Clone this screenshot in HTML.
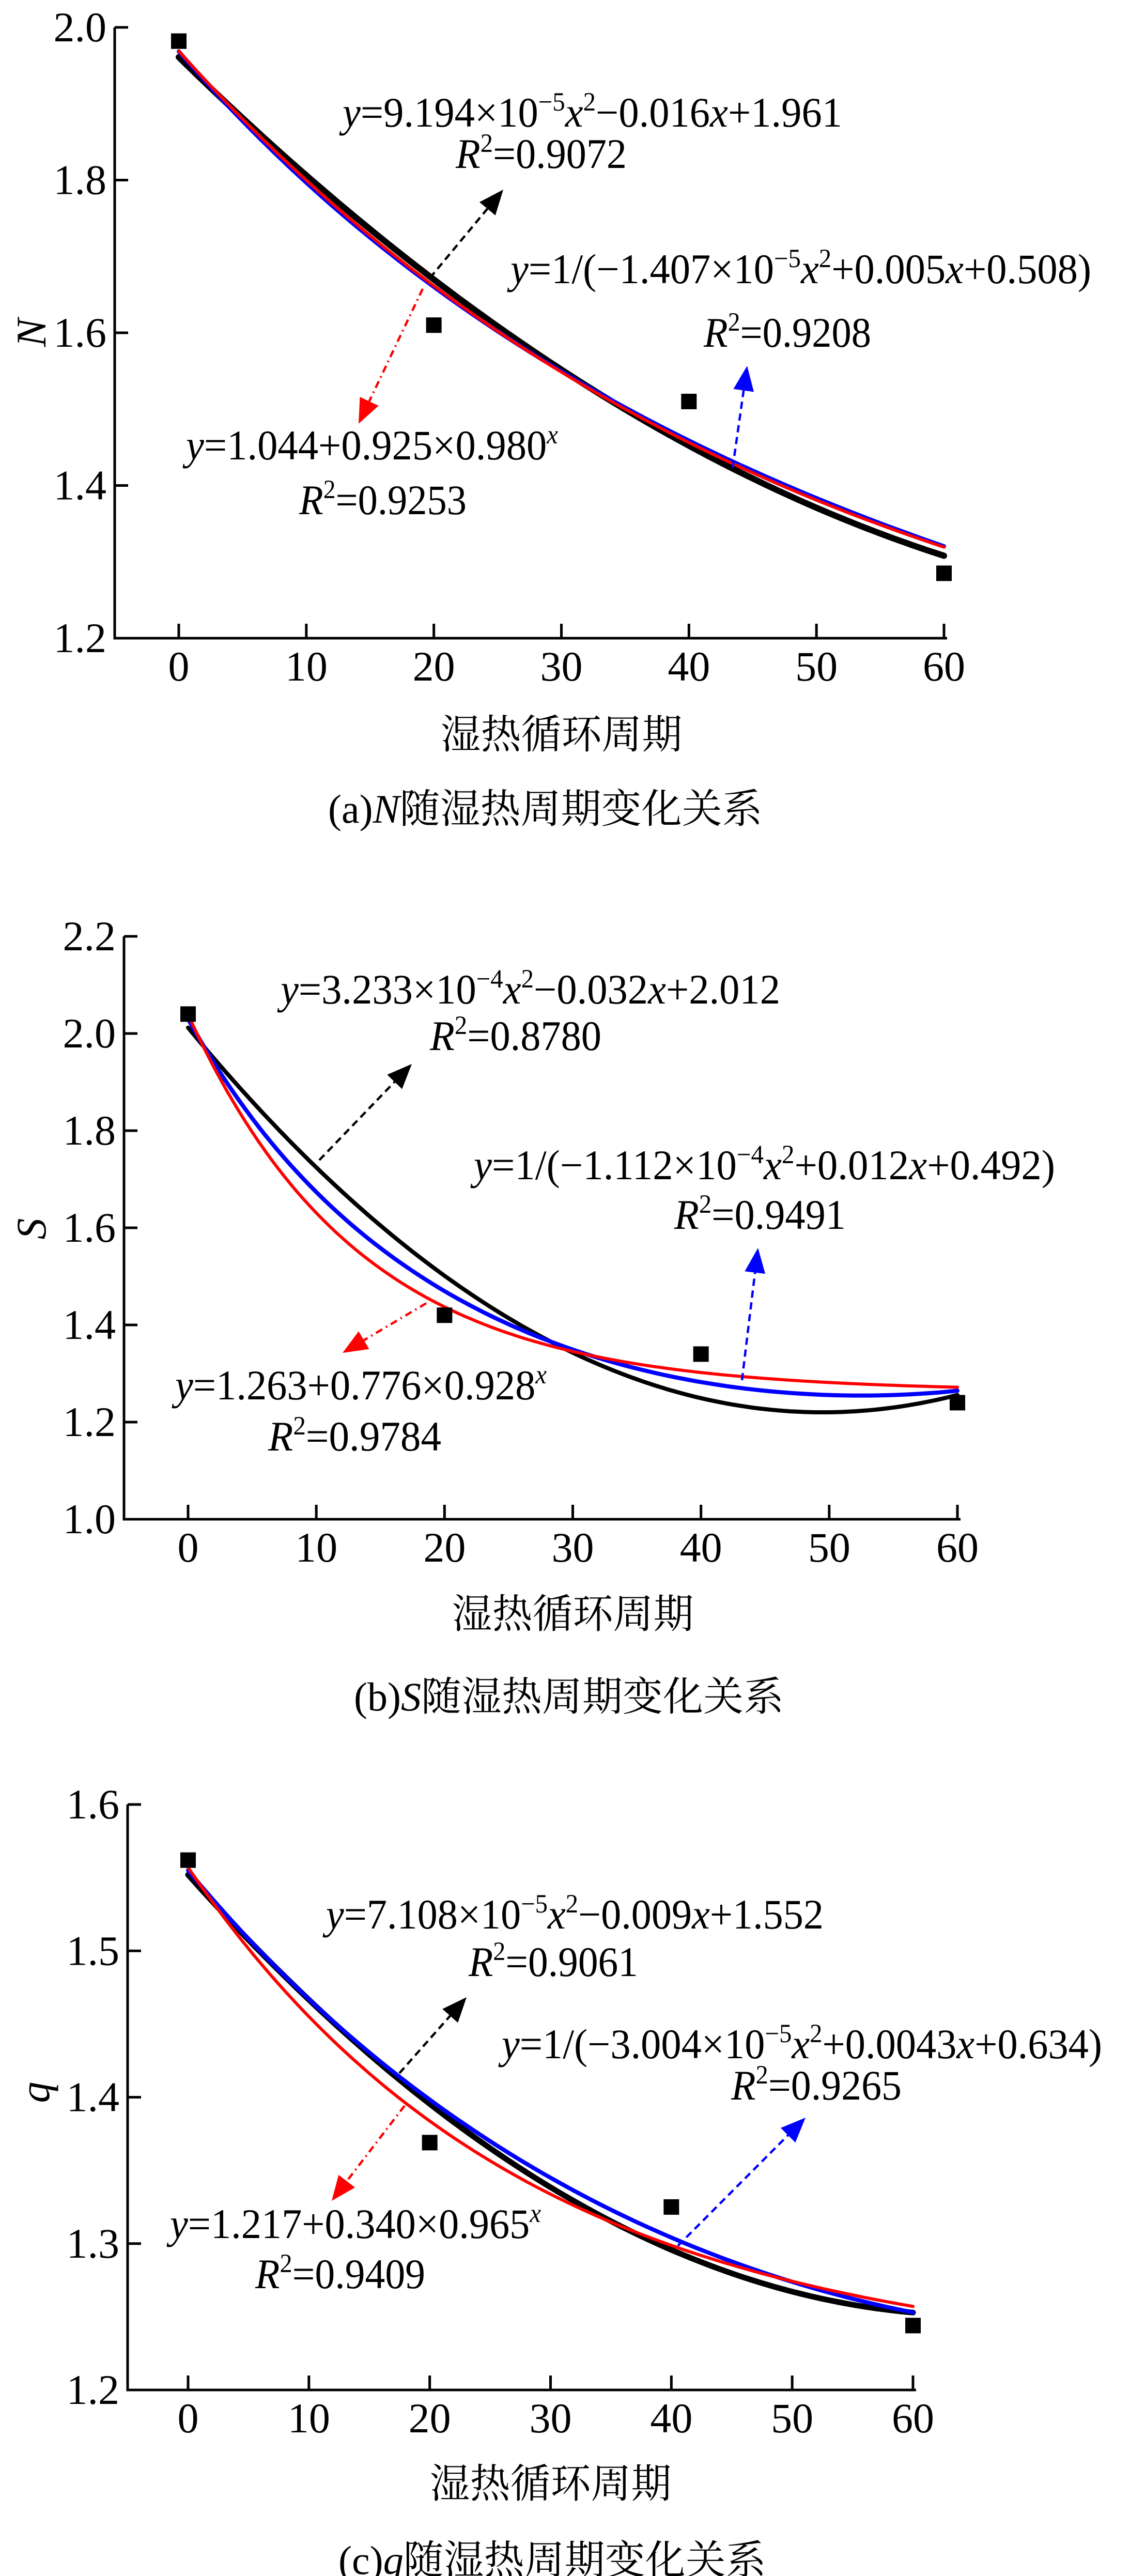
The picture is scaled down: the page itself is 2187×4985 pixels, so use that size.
<!DOCTYPE html>
<html><head><meta charset="utf-8">
<style>
html,body{margin:0;padding:0;background:#fff;}
svg{display:block;}
text{font-family:"Liberation Serif","Noto Serif CJK SC",serif;fill:#000;}
.cn{font-family:"Liberation Serif","Noto Serif CJK SC","Noto Sans CJK SC",serif;}
</style></head>
<body>
<svg id="fig" width="2187" height="4985" viewBox="0 0 2187 4985" xmlns="http://www.w3.org/2000/svg"></svg>
<script>
// ---- data ----
const xCats = [0, 20, 40, 60];
const xTicks = [0, 10, 20, 30, 40, 50, 60];
// chart a (N)
const nPoints = [1.982, 1.61, 1.51, 1.285];
const nQuad = [9.194e-5, -0.0164, 1.961];
const nExp = [1.044, 0.925, 0.980];
const nRat = [-1.407e-5, 0.005, 0.508];
const nTicks = [1.2, 1.4, 1.6, 1.8, 2.0];
// chart b (S)
const sPoints = [2.04, 1.42, 1.34, 1.24];
const sQuad = [3.233e-4, -0.032, 2.012];
const sExp = [1.263, 0.776, 0.928];
const sRat = [-1.105e-4, 0.0116, 0.4926];
const sTicks = [1.0, 1.2, 1.4, 1.6, 1.8, 2.0, 2.2];
// chart c (q)
const qPoints = [1.562, 1.369, 1.325, 1.244];
const qQuad = [7.108e-5, -0.00925, 1.552];
const qExp = [1.217, 0.340, 0.965];
const qRat = [-2.544e-5, 0.00411, 0.6431];
const qTicks = [1.2, 1.3, 1.4, 1.5, 1.6];

const NS = "http://www.w3.org/2000/svg";
const svg = document.getElementById('fig');
function mk(tag, attrs, parent){
  const e = document.createElementNS(NS, tag);
  for (const k in attrs) e.setAttribute(k, attrs[k]);
  (parent||svg).appendChild(e);
  return e;
}
function rich(parent, str, x, y, len, fs){
  const t = mk('text', {x:x, y:y, 'font-size':fs}, parent);
  if (len) { t.setAttribute('textLength', len); t.setAttribute('lengthAdjust', 'spacingAndGlyphs'); }
  let i = 0, sup = false;
  const sh = Math.round(fs*0.38);
  while (i < str.length) {
    let ch = str[i];
    if (ch === '^' && str[i+1] === '{') {
      const end = str.indexOf('}', i);
      const s = str.slice(i+2, end);
      const ts = mk('tspan', {dy: -sh, 'font-size': Math.round(fs*0.62)}, t);
      if (/[a-zA-Z]/.test(s)) ts.setAttribute('font-style', 'italic');
      ts.textContent = s;
      sup = true; i = end+1; continue;
    }
    const ital = /[a-zA-Z]/.test(ch);
    let j = i;
    while (j < str.length && str[j] !== '^' && (/[a-zA-Z]/.test(str[j]) === ital)) j++;
    const ts = mk('tspan', {}, t);
    if (sup) { ts.setAttribute('dy', sh); sup = false; }
    if (ital) ts.setAttribute('font-style', 'italic');
    ts.textContent = str.slice(i, j);
    i = j;
  }
  return t;
}
function arrow(g, x1, y1, x2, y2, color, dash){
  const dx = x2-x1, dy = y2-y1, L = Math.hypot(dx, dy), ux = dx/L, uy = dy/L;
  const hl = 48, hw = 20;
  const bx = x2-ux*hl, by = y2-uy*hl;
  mk('line', {x1:x1, y1:y1, x2:bx, y2:by, stroke:color, 'stroke-width':4.5, 'stroke-dasharray':dash}, g);
  mk('polygon', {points:`${x2},${y2} ${bx-uy*hw},${by+ux*hw} ${bx+uy*hw},${by-ux*hw}`, fill:color}, g);
}

function chart(c){
  const g = mk('g', {});
  
  
  const xs = v => c.x0 + (v - 0)/(60 - 0)*(c.x60 - c.x0);
  const ys = v => c.yBot + (v - c.yMin)/(c.yMax - c.yMin)*(c.yTop - c.yBot);
  const ax = mk('path', {d:`M${c.ax},${c.yTop} V${c.yBot} H${c.x60+6}`, fill:'none', stroke:'#000', 'stroke-width':5}, g);
  
  
  c.yticks.forEach(v => {
    mk('line', {x1:c.ax, x2:c.ax+26, y1:ys(v), y2:ys(v), stroke:'#000', 'stroke-width':5}, g);
    const t = mk('text', {x:c.ax-16, y:ys(v)+27, 'font-size':82, 'text-anchor':'end'}, g);
    
    
    t.textContent = v.toFixed(1);
  });
  xTicks.forEach(v => {
    mk('line', {x1:xs(v), x2:xs(v), y1:c.yBot, y2:c.yBot-28, stroke:'#000', 'stroke-width':5}, g);
    const t = mk('text', {x:xs(v), y:c.yBot+82, 'font-size':82, 'text-anchor':'middle'}, g);
    
    
    t.textContent = v;
  });
  const yt = mk('text', {x:0, y:0, 'font-size':82, 'font-style':'italic', 'text-anchor':'middle', transform:`translate(${c.ylx},${c.yly}) rotate(-90)`}, g);
  
  
  yt.textContent = c.ylab;
  const xt = mk('text', {x:(c.x0+c.x60)/2+c.xlOff, y:c.xlY+27, 'font-size':78, 'text-anchor':'middle', class:'cn'}, g);
  
  
  xt.textContent = '湿热循环周期';
  const cap = mk('text', {x:c.capX, y:c.capY+27, 'font-size':78, class:'cn'}, g);
  
  
  const t1 = mk('tspan', {}, cap); t1.textContent = c.capPre;
  const t2 = mk('tspan', {'font-style':'italic'}, cap); t2.textContent = c.ylab;
  const t3 = mk('tspan', {}, cap); t3.textContent = '随湿热周期变化关系';
  const fQ = x => c.quad[0]*x*x + c.quad[1]*x + c.quad[2];
  const fE = x => c.exp[0] + c.exp[1]*Math.pow(c.exp[2], x);
  const fR = x => 1/(c.rat[0]*x*x + c.rat[1]*x + c.rat[2]);
  const curve = (f, col, w, nm) => {
    let d = '';
    for (let i = 0; i <= 120; i++) { const x = i*0.5; d += (i?'L':'M') + xs(x).toFixed(1) + ',' + ys(f(x)).toFixed(1); }
    const p = mk('path', {d:d, fill:'none', stroke:col, 'stroke-width':w, 'stroke-linecap':'round'}, g);
    
    
  };
  curve(fQ, '#000', c.bw, 'quadratic-fit-curve');
  curve(fR, '#0000ff', 8, 'rational-fit-curve');
  curve(fE, '#ff0000', 6, 'exponential-fit-curve');
  c.pts.forEach((v, i) => {
    const r = mk('rect', {x:xs(xCats[i])-15, y:ys(v)-15, width:30, height:30, fill:'#000'}, g);
    
    
  });
  c.eqs.forEach(e => {
    const t = rich(g, e[0], e[1], e[2], e[3], 82);
    
    
  });
  c.arrows.forEach(a => arrow(g, a[0], a[1], a[2], a[3], a[4], a[5]));
}

const DASH = '14,9', DASHDOT = '14,8,3,8';
chart({name:'chart-n', ylab:'N', x0:346, x60:1827, ax:222, yTop:53, yBot:1235, yMin:1.2, yMax:2.0, bw:12,
  yticks:nTicks, pts:nPoints, quad:nQuad, exp:nExp, rat:nRat, ylx:88, yly:644, xlY:1421, xlOff:0,
  capX:635, capY:1565, capPre:'(a)',
  eqs:[['y=9.194×10^{−5}x^{2}−0.016x+1.961', 663, 245, 967],
       ['R^{2}=0.9072', 882, 325, 331],
       ['y=1/(−1.407×10^{−5}x^{2}+0.005x+0.508)', 988, 548, 1124],
       ['R^{2}=0.9208', 1362, 671, 324],
       ['y=1.044+0.925×0.980^{x}', 360, 889, 720],
       ['R^{2}=0.9253', 579, 995, 324]],
  arrows:[[832,538,974,367,'#000',DASH],[818,559,694,820,'#ff0000',DASHDOT],[1418,905,1446,708,'#0000ff',DASH]]});
chart({name:'chart-s', ylab:'S', x0:364, x60:1853, ax:240, yTop:1812, yBot:2940, yMin:1.0, yMax:2.2, bw:8,
  yticks:sTicks, pts:sPoints, quad:sQuad, exp:sExp, rat:sRat, ylx:88, yly:2378, xlY:3123, xlOff:0,
  capX:685, capY:3283, capPre:'(b)',
  eqs:[['y=3.233×10^{−4}x^{2}−0.032x+2.012', 543, 1942, 967],
       ['R^{2}=0.8780', 832, 2032, 332],
       ['y=1/(−1.112×10^{−4}x^{2}+0.012x+0.492)', 917, 2282, 1125],
       ['R^{2}=0.9491', 1305, 2378, 332],
       ['y=1.263+0.776×0.928^{x}', 339, 2708, 719],
       ['R^{2}=0.9784', 519, 2807, 335]],
  arrows:[[618,2245,797,2059,'#000',DASH],[825,2522,663,2618,'#ff0000',DASHDOT],[1436,2671,1467,2415,'#0000ff',DASH]]});
chart({name:'chart-q', ylab:'q', x0:364, x60:1767, ax:247, yTop:3492, yBot:4625, yMin:1.2, yMax:1.6, bw:11,
  yticks:qTicks, pts:qPoints, quad:qQuad, exp:qExp, rat:qRat, ylx:95, yly:4049, xlY:4806, xlOff:0,
  capX:655, capY:4954, capPre:'(c)',
  eqs:[['y=7.108×10^{−5}x^{2}−0.009x+1.552', 631, 3732, 963],
       ['R^{2}=0.9061', 907, 3824, 328],
       ['y=1/(−3.004×10^{−5}x^{2}+0.0043x+0.634)', 971, 3983, 1162],
       ['R^{2}=0.9265', 1415, 4063, 330],
       ['y=1.217+0.340×0.965^{x}', 329, 4331, 718],
       ['R^{2}=0.9409', 494, 4428, 329]],
  arrows:[[773,4012,903,3865,'#000',DASH],[783,4075,642,4259,'#ff0000',DASHDOT],[1312,4346,1559,4098,'#0000ff',DASH]]});
</script>
</body></html>
